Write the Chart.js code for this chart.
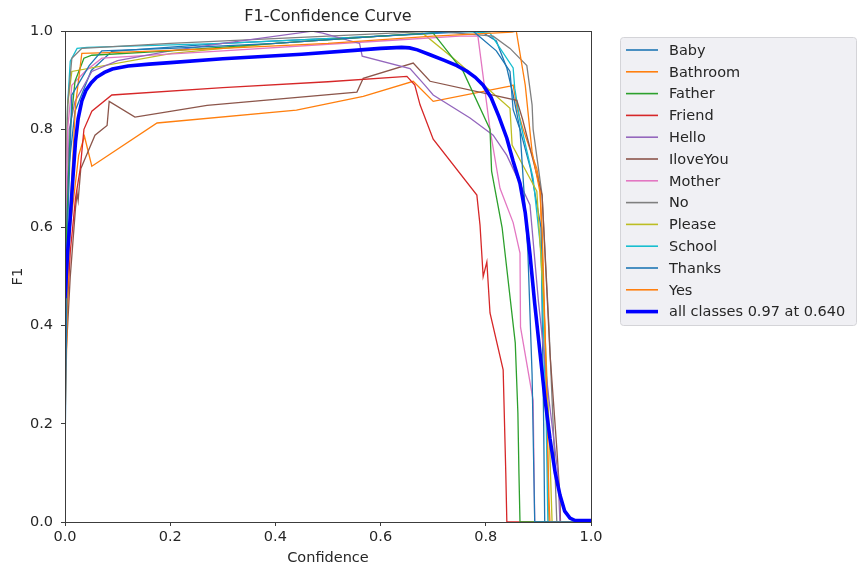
<!DOCTYPE html>
<html>
<head>
<meta charset="utf-8">
<title>F1-Confidence Curve</title>
<script src="https://cdn.jsdelivr.net/npm/chart.js@4.4.0/dist/chart.umd.min.js"></script>
<style>
  body { margin: 0; background: #fff; }
  #wrap { width: 858px; height: 572px; }
</style>
</head>
<body>
<div id="wrap"><canvas id="f1Chart" width="858" height="572"></canvas></div>
<script>
// F1 vs confidence as [confidence, f1] pairs
const classNames = ['Baby', 'Bathroom', 'Father', 'Friend', 'Hello', 'IloveYou', 'Mother', 'No', 'Please', 'School', 'Thanks', 'Yes'];

const baby = [[0, 0.13], [0.005, 0.6], [0.013, 0.87], [0.046, 0.93], [0.07, 0.96], [0.2, 0.965], [0.4, 0.975], [0.6, 0.99], [0.75, 1.0], [0.776, 1.0], [0.82, 0.96], [0.846, 0.918], [0.852, 0.84], [0.865, 0.8], [0.88, 0.55], [0.888, 0.3], [0.893, 0], [1, 0]];
const bathroom = [[0, 0.2], [0.008, 0.6], [0.02, 0.85], [0.032, 0.955], [0.1, 0.957], [0.3, 0.965], [0.5, 0.975], [0.7, 0.99], [0.85, 0.998], [0.858, 1.0], [0.875, 0.89], [0.888, 0.754], [0.903, 0.672], [0.907, 0.6], [0.915, 0.3], [0.92, 0.05], [0.922, 0], [1, 0]];
const father = [[0, 0.5], [0.01, 0.8], [0.019, 0.898], [0.036, 0.945], [0.051, 0.951], [0.2, 0.96], [0.4, 0.975], [0.6, 0.99], [0.7, 0.996], [0.757, 0.918], [0.808, 0.8], [0.811, 0.715], [0.831, 0.6], [0.856, 0.365], [0.861, 0.222], [0.863, 0.1], [0.865, 0], [1, 0]];
const friend = [[0, 0.35], [0.01, 0.55], [0.02, 0.66], [0.029, 0.72], [0.036, 0.8], [0.051, 0.837], [0.089, 0.87], [0.3, 0.885], [0.5, 0.897], [0.65, 0.908], [0.665, 0.89], [0.675, 0.85], [0.7, 0.78], [0.783, 0.666], [0.789, 0.605], [0.795, 0.5], [0.802, 0.53], [0.808, 0.426], [0.833, 0.31], [0.838, 0.1], [0.84, 0], [1, 0]];
const hello = [[0, 0.5], [0.008, 0.8], [0.019, 0.857], [0.051, 0.918], [0.1, 0.94], [0.2, 0.96], [0.3, 0.975], [0.47, 1.0], [0.49, 0.996], [0.56, 0.975], [0.565, 0.949], [0.656, 0.924], [0.684, 0.89], [0.7, 0.87], [0.77, 0.823], [0.814, 0.788], [0.84, 0.747], [0.884, 0.646], [0.9, 0.45], [0.92, 0.25], [0.937, 0.1], [0.941, 0], [1, 0]];
const iloveYou = [[0, 0.3], [0.01, 0.5], [0.02, 0.64], [0.023, 0.67], [0.025, 0.655], [0.03, 0.72], [0.038, 0.74], [0.057, 0.788], [0.08, 0.808], [0.084, 0.857], [0.133, 0.825], [0.203, 0.837], [0.27, 0.849], [0.555, 0.876], [0.567, 0.904], [0.662, 0.935], [0.694, 0.898], [0.859, 0.859], [0.87, 0.82], [0.907, 0.666], [0.922, 0.344], [0.935, 0.15], [0.941, 0.05], [0.942, 0], [1, 0]];
const mother = [[0, 0.55], [0.005, 0.8], [0.013, 0.89], [0.038, 0.918], [0.07, 0.945], [0.3, 0.96], [0.6, 0.98], [0.75, 0.99], [0.785, 0.99], [0.808, 0.8], [0.827, 0.68], [0.852, 0.61], [0.865, 0.548], [0.866, 0.397], [0.89, 0.248], [0.893, 0], [1, 0]];
const no = [[0, 0.6], [0.005, 0.85], [0.013, 0.945], [0.032, 0.965], [0.2, 0.975], [0.5, 0.99], [0.7, 1.0], [0.814, 0.99], [0.846, 0.965], [0.878, 0.93], [0.888, 0.85], [0.89, 0.8], [0.907, 0.666], [0.92, 0.4], [0.93, 0.15], [0.935, 0], [1, 0]];
const please = [[0, 0.55], [0.005, 0.85], [0.013, 0.918], [0.203, 0.955], [0.4, 0.975], [0.6, 0.99], [0.68, 0.996], [0.745, 0.939], [0.846, 0.843], [0.85, 0.768], [0.884, 0.7], [0.897, 0.674], [0.91, 0.45], [0.92, 0.2], [0.926, 0], [1, 0]];
const school = [[0, 0.6], [0.005, 0.85], [0.01, 0.939], [0.023, 0.965], [0.042, 0.967], [0.3, 0.975], [0.6, 0.99], [0.75, 1.0], [0.808, 0.996], [0.852, 0.925], [0.855, 0.884], [0.865, 0.817], [0.89, 0.7], [0.905, 0.55], [0.915, 0.2], [0.918, 0], [1, 0]];
const thanks = [[0, 0.5], [0.005, 0.7], [0.019, 0.837], [0.05, 0.92], [0.089, 0.959], [0.3, 0.975], [0.6, 0.99], [0.79, 1.0], [0.82, 0.98], [0.84, 0.925], [0.852, 0.87], [0.865, 0.8], [0.885, 0.72], [0.905, 0.6], [0.91, 0.2], [0.912, 0], [1, 0]];
const yes = [[0, 0.4], [0.01, 0.6], [0.026, 0.747], [0.037, 0.786], [0.051, 0.725], [0.175, 0.813], [0.44, 0.839], [0.567, 0.867], [0.662, 0.898], [0.7, 0.857], [0.846, 0.888], [0.852, 0.89], [0.86, 0.84], [0.871, 0.8], [0.897, 0.72], [0.903, 0.686], [0.912, 0.4], [0.918, 0.1], [0.92, 0], [1, 0]];

const allClasses = [[0, 0.456], [0.005, 0.55], [0.01, 0.62], [0.015, 0.7], [0.02, 0.775], [0.025, 0.822], [0.032, 0.858], [0.04, 0.88], [0.05, 0.895], [0.06, 0.906], [0.075, 0.916], [0.09, 0.923], [0.12, 0.929], [0.16, 0.933], [0.2, 0.936], [0.3, 0.944], [0.45, 0.953], [0.55, 0.961], [0.6, 0.965], [0.64, 0.967], [0.655, 0.966], [0.67, 0.962], [0.694, 0.952], [0.72, 0.941], [0.745, 0.93], [0.765, 0.918], [0.78, 0.906], [0.795, 0.89], [0.81, 0.865], [0.825, 0.826], [0.84, 0.782], [0.852, 0.735], [0.865, 0.69], [0.875, 0.63], [0.884, 0.545], [0.893, 0.445], [0.903, 0.345], [0.912, 0.255], [0.922, 0.17], [0.932, 0.1], [0.941, 0.055], [0.95, 0.022], [0.96, 0.008], [0.97, 0.003], [1, 0.003]];
const allLabel = 'all classes 0.97 at 0.640';

const classCurves = [baby, bathroom, father, friend, hello, iloveYou, mother, no, please, school, thanks, yes];
const axisTicks = [0, 0.2, 0.4, 0.6, 0.8, 1.0];

// matplotlib tab10 cycle
const tab10 = ['#1f77b4', '#ff7f0e', '#2ca02c', '#d62728', '#9467bd', '#8c564b', '#e377c2', '#7f7f7f', '#bcbd22', '#17becf'];
const FONT = '"DejaVu Sans", "Liberation Sans", sans-serif';
const textColor = '#262626';

const toPoints = arr => arr.map(p => ({ x: p[0], y: p[1] }));

const datasets = classNames.map((name, i) => ({
    label: name,
    data: toPoints(classCurves[i]),
    borderColor: tab10[i % 10],
    borderWidth: 1.3,
    pointRadius: 0,
    tension: 0,
    order: 1
}));
datasets.push({
    label: allLabel,
    data: toPoints(allClasses),
    borderColor: '#0000ff',
    borderWidth: 3.6,
    pointRadius: 0,
    tension: 0,
    order: 0
});

// axes box + legend panel like matplotlib
const framePlugin = {
    id: 'frameAndLegend',
    afterDraw(chart) {
        const { ctx, chartArea: a } = chart;
        ctx.save();
        ctx.strokeStyle = '#3c3c3c';
        ctx.lineWidth = 1;
        ctx.strokeRect(Math.round(a.left) + 0.5, Math.round(a.top) + 0.5, Math.round(a.right - a.left), Math.round(a.bottom - a.top));

        // legend box
        const lx = 620.5, ly = 37.5, lw = 236, lh = 288;
        ctx.beginPath();
        ctx.roundRect(lx, ly, lw, lh, 3);
        ctx.fillStyle = 'rgba(238, 238, 243, 0.9)';
        ctx.fill();
        ctx.strokeStyle = '#d4d4d8';
        ctx.stroke();

        ctx.font = '14.5px ' + FONT;
        ctx.textBaseline = 'middle';
        ctx.textAlign = 'left';
        chart.data.datasets.forEach((ds, i) => {
            const y = 50 + i * 21.8;
            ctx.beginPath();
            ctx.strokeStyle = ds.borderColor;
            ctx.lineWidth = ds.borderWidth > 2 ? 3.6 : 1.6;
            ctx.moveTo(626, y);
            ctx.lineTo(658, y);
            ctx.stroke();
            ctx.fillStyle = textColor;
            ctx.fillText(ds.label, 669, y + 1);
        });
        ctx.restore();
    }
};

const ctx = document.getElementById('f1Chart').getContext('2d');
new Chart(ctx, {
    type: 'line',
    data: { datasets: datasets },
    options: {
        responsive: false,
        animation: false,
        layout: { padding: { left: 0, right: 267, top: 0, bottom: 0 } },
        plugins: {
            legend: { display: false },
            tooltip: { enabled: false },
            title: {
                display: true,
                text: 'F1-Confidence Curve',
                fullSize: false,
                color: textColor,
                font: { family: FONT, size: 16, weight: 'normal' },
                padding: { top: 7, bottom: 5 }
            }
        },
        scales: {
            x: {
                type: 'linear',
                min: 0,
                max: 1,
                afterBuildTicks: s => { s.ticks = axisTicks.map(v => ({ value: v })); },
                afterFit: s => { s.height = 50; },
                ticks: {
                    callback: v => v.toFixed(1),
                    color: textColor,
                    font: { family: FONT, size: 14.5 },
                    padding: 3,
                    maxRotation: 0,
                    autoSkip: false
                },
                grid: { drawOnChartArea: false, drawTicks: true, tickLength: 4, tickColor: '#3c3c3c' },
                border: { display: false },
                title: {
                    display: true,
                    text: 'Confidence',
                    color: textColor,
                    font: { family: FONT, size: 14.5 },
                    padding: { top: 0, bottom: 5 }
                }
            },
            y: {
                type: 'linear',
                min: 0,
                max: 1,
                afterBuildTicks: s => { s.ticks = axisTicks.map(v => ({ value: v })); },
                afterFit: s => { s.width = 65; },
                ticks: {
                    callback: v => v.toFixed(1),
                    color: textColor,
                    font: { family: FONT, size: 14.5 },
                    padding: 8,
                    autoSkip: false
                },
                grid: { drawOnChartArea: false, drawTicks: true, tickLength: 4, tickColor: '#3c3c3c' },
                border: { display: false },
                title: {
                    display: true,
                    text: 'F1',
                    color: textColor,
                    font: { family: FONT, size: 14.5 },
                    padding: { top: 10, bottom: 0 }
                }
            }
        }
    },
    plugins: [framePlugin]
});
</script>
</body>
</html>
